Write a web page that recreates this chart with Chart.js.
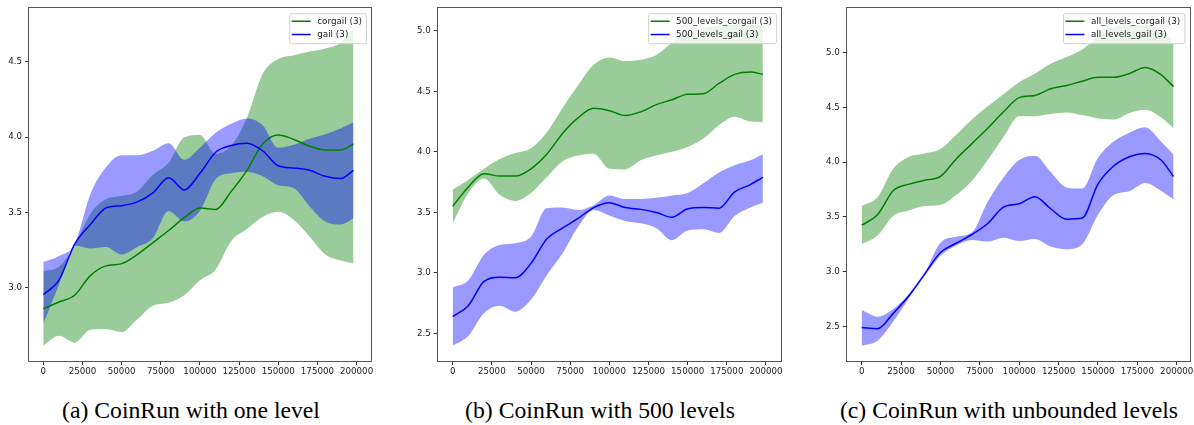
<!DOCTYPE html>
<html lang="en">
<head>
<meta charset="UTF-8">
<title>CoinRun reward curves</title>
<script src="https://cdn.jsdelivr.net/npm/chart.js"></script>
<style>
    html, body { margin: 0; padding: 0; background: #fff; overflow: hidden; }
    body { width: 1194px; height: 425px; position: relative; }
    .panel { position: absolute; top: 0; }
    .caption {
        position: absolute;
        top: 396px;
        font-family: "Liberation Serif", "Times New Roman", serif;
        font-size: 23.7px;
        line-height: 28px;
        white-space: nowrap;
        transform: translateX(-50%);
        color: #000;
    }
</style>
</head>
<body>
<div class="panel" style="left:0px"><canvas id="c1" width="380" height="385"></canvas></div>
<div class="panel" style="left:400px"><canvas id="c2" width="390" height="385"></canvas></div>
<div class="panel" style="left:800px"><canvas id="c3" width="404" height="385"></canvas></div>
<div class="caption" id="cap1" style="left:191px"></div>
<div class="caption" id="cap2" style="left:600px"></div>
<div class="caption" id="cap3" style="left:1009px"></div>

<script>
// training steps (shared by every series)
const steps = [0, 10000, 20000, 30000, 40000, 50000, 60000, 70000, 80000, 90000, 100000,
               110000, 120000, 130000, 140000, 150000, 160000, 170000, 180000, 190000, 198000];
const xTicks = [0, 25000, 50000, 75000, 100000, 125000, 150000, 175000, 200000];

const captions = ['(a) CoinRun with one level', '(b) CoinRun with 500 levels', '(c) CoinRun with unbounded levels'];

// (a) one level
const oneLabels = ['corgail (3)', 'gail (3)'];
const oneYTicks = [3.0, 3.5, 4.0, 4.5];
const oneCorgailMean = [2.86, 2.905, 2.95, 3.08, 3.145, 3.16, 3.22, 3.30, 3.38, 3.465, 3.53, 3.52, 3.64, 3.78, 3.955, 4.015, 3.985, 3.94, 3.915, 3.915, 3.955];
const oneCorgailHigh = [3.11, 3.14, 3.28, 3.49, 3.59, 3.61, 3.64, 3.75, 3.83, 4.0, 4.015, 3.89, 3.945, 4.13, 4.42, 4.52, 4.545, 4.57, 4.59, 4.63, 4.73];
const oneCorgailLow = [2.615, 2.68, 2.635, 2.72, 2.725, 2.705, 2.79, 2.88, 2.90, 2.95, 3.05, 3.12, 3.31, 3.39, 3.47, 3.505, 3.45, 3.34, 3.22, 3.18, 3.16];
const oneGailMean = [2.955, 3.05, 3.29, 3.42, 3.53, 3.545, 3.57, 3.63, 3.73, 3.65, 3.76, 3.90, 3.945, 3.96, 3.91, 3.81, 3.795, 3.78, 3.74, 3.725, 3.78];
const oneGailHigh = [3.17, 3.21, 3.29, 3.62, 3.80, 3.88, 3.88, 3.91, 3.96, 3.85, 3.93, 4.03, 4.09, 4.125, 4.08, 3.93, 3.95, 3.99, 4.02, 4.06, 4.10];
const oneGailLow = [2.76, 3.02, 3.28, 3.26, 3.27, 3.22, 3.27, 3.33, 3.51, 3.44, 3.51, 3.72, 3.76, 3.77, 3.74, 3.68, 3.66, 3.54, 3.44, 3.42, 3.46];

// (b) 500 levels
const fiveLabels = ['500_levels_corgail (3)', '500_levels_gail (3)'];
const fiveYTicks = [2.5, 3.0, 3.5, 4.0, 4.5, 5.0];
const fiveCorgailMean = [3.55, 3.71, 3.82, 3.80, 3.80, 3.86, 3.98, 4.15, 4.28, 4.36, 4.34, 4.30, 4.33, 4.39, 4.43, 4.475, 4.48, 4.565, 4.64, 4.66, 4.64];
const fiveCorgailHigh = [3.69, 3.77, 3.86, 3.94, 3.99, 4.03, 4.16, 4.36, 4.55, 4.72, 4.78, 4.75, 4.76, 4.80, 4.90, 4.98, 5.02, 5.04, 5.05, 5.05, 5.05];
const fiveCorgailLow = [3.41, 3.66, 3.78, 3.645, 3.595, 3.66, 3.79, 3.92, 3.97, 3.985, 3.86, 3.855, 3.93, 3.97, 4.0, 4.04, 4.11, 4.22, 4.29, 4.25, 4.245];
const fiveGailMean = [2.64, 2.73, 2.93, 2.965, 2.96, 3.08, 3.28, 3.37, 3.45, 3.54, 3.58, 3.54, 3.525, 3.50, 3.46, 3.53, 3.54, 3.535, 3.67, 3.73, 3.79];
const fiveGailHigh = [2.88, 2.94, 3.15, 3.23, 3.245, 3.30, 3.535, 3.54, 3.52, 3.56, 3.64, 3.61, 3.61, 3.62, 3.64, 3.66, 3.74, 3.83, 3.89, 3.93, 3.98];
const fiveGailLow = [2.40, 2.48, 2.67, 2.73, 2.68, 2.78, 2.98, 3.16, 3.38, 3.52, 3.475, 3.43, 3.41, 3.37, 3.27, 3.35, 3.36, 3.33, 3.47, 3.54, 3.58];

// (c) unbounded levels
const allLabels = ['all_levels_corgail (3)', 'all_levels_gail (3)'];
const allYTicks = [2.5, 3.0, 3.5, 4.0, 4.5, 5.0];
const allCorgailMean = [3.425, 3.52, 3.74, 3.80, 3.835, 3.87, 4.03, 4.17, 4.31, 4.46, 4.59, 4.61, 4.67, 4.70, 4.74, 4.775, 4.775, 4.81, 4.865, 4.80, 4.69];
const allCorgailHigh = [3.60, 3.68, 3.94, 4.05, 4.08, 4.12, 4.25, 4.39, 4.51, 4.62, 4.73, 4.81, 4.90, 4.96, 5.03, 5.14, 5.23, 5.25, 5.25, 5.21, 5.10];
const allCorgailLow = [3.25, 3.33, 3.51, 3.56, 3.60, 3.61, 3.70, 3.83, 4.02, 4.23, 4.42, 4.42, 4.44, 4.455, 4.43, 4.40, 4.39, 4.45, 4.48, 4.41, 4.31];
const allGailMean = [2.49, 2.48, 2.62, 2.78, 2.98, 3.175, 3.26, 3.34, 3.44, 3.59, 3.62, 3.685, 3.575, 3.48, 3.49, 3.80, 3.965, 4.05, 4.08, 4.02, 3.87];
const allGailHigh = [2.65, 2.59, 2.66, 2.80, 2.99, 3.265, 3.32, 3.36, 3.64, 3.86, 4.02, 4.06, 3.91, 3.77, 3.76, 4.04, 4.19, 4.27, 4.32, 4.19, 4.07];
const allGailLow = [2.325, 2.37, 2.545, 2.76, 2.96, 3.145, 3.24, 3.29, 3.275, 3.31, 3.28, 3.30, 3.23, 3.205, 3.25, 3.52, 3.70, 3.735, 3.81, 3.74, 3.66];

const GREEN = '#008000';
const BLUE = '#0000ff';
const GREEN_BAND = 'rgba(0, 128, 0, 0.4)';
const BLUE_BAND = 'rgba(0, 0, 255, 0.4)';
const TICK_FONT = { family: 'DejaVu Sans', size: 8.7 };

function pts(vals) {
    return vals.map((y, i) => ({ x: steps[i], y: y }));
}

function band(vals, color, fill, order) {
    return {
        data: pts(vals),
        borderWidth: 0,
        pointRadius: 0,
        backgroundColor: color,
        fill: fill,
        order: order,
        cubicInterpolationMode: 'monotone'
    };
}

function meanLine(label, vals, color, order) {
    return {
        label: label,
        inLegend: true,
        data: pts(vals),
        borderColor: color,
        borderWidth: 1.5,
        pointRadius: 0,
        fill: false,
        order: order,
        cubicInterpolationMode: 'monotone'
    };
}

// matplotlib style box around the plot area
const frame = {
    id: 'frame',
    afterDatasetsDraw(chart) {
        const a = chart.chartArea;
        const ctx = chart.ctx;
        ctx.save();
        ctx.strokeStyle = '#555';
        ctx.lineWidth = 1;
        ctx.strokeRect(Math.round(a.left) - 0.5, Math.round(a.top) - 0.5,
                       Math.round(a.right - a.left) + 1, Math.round(a.bottom - a.top) + 1);
        ctx.restore();
    }
};

// legend in the upper right corner, inside the axes
const cornerLegend = {
    id: 'cornerLegend',
    afterDraw(chart) {
        const a = chart.chartArea;
        const ctx = chart.ctx;
        const items = chart.data.datasets.filter(d => d.inLegend);
        ctx.save();
        ctx.font = '8.8px "DejaVu Sans"';
        const textW = Math.max(...items.map(d => ctx.measureText(d.label).width));
        const w = 28 + textW + 4;
        const h = 30;
        const x = a.right - 5 - w;
        const y = a.top + 5;
        ctx.beginPath();
        ctx.roundRect(x + 0.5, y + 0.5, w, h, 2);
        ctx.fillStyle = 'rgba(255, 255, 255, 0.8)';
        ctx.fill();
        ctx.strokeStyle = '#d0d0d0';
        ctx.lineWidth = 1;
        ctx.stroke();
        ctx.textBaseline = 'middle';
        items.forEach((d, i) => {
            const cy = y + 8 + i * 13.3;
            ctx.strokeStyle = d.borderColor;
            ctx.lineWidth = 1.5;
            ctx.beginPath();
            ctx.moveTo(x + 2.5, cy);
            ctx.lineTo(x + 21.5, cy);
            ctx.stroke();
            ctx.fillStyle = '#222';
            ctx.fillText(d.label, x + 28, cy + 0.5);
        });
        ctx.restore();
    }
};

function makePanel(id, p) {
    const ctx = document.getElementById(id).getContext('2d');
    return new Chart(ctx, {
        type: 'line',
        data: {
            datasets: [
                band(p.corgailLow, GREEN_BAND, false, 6),
                band(p.corgailHigh, GREEN_BAND, '-1', 6),
                band(p.gailLow, BLUE_BAND, false, 4),
                band(p.gailHigh, BLUE_BAND, '-1', 4),
                meanLine(p.labels[0], p.corgailMean, GREEN, 2),
                meanLine(p.labels[1], p.gailMean, BLUE, 1)
            ]
        },
        options: {
            responsive: false,
            animation: false,
            layout: { padding: { top: 6, right: p.padRight, left: 0, bottom: 0 } },
            plugins: { legend: { display: false }, tooltip: { enabled: false } },
            scales: {
                x: {
                    type: 'linear',
                    min: p.xMin,
                    max: p.xMax,
                    afterBuildTicks: s => { s.ticks = xTicks.map(v => ({ value: v })); },
                    afterFit: s => { s.height = 24; },
                    border: { display: false },
                    grid: { drawOnChartArea: false, drawTicks: true, tickLength: 4, color: '#333' },
                    ticks: {
                        font: TICK_FONT, color: '#222', padding: 2, maxRotation: 0, autoSkip: false,
                        callback: v => String(v)
                    }
                },
                y: {
                    min: p.yMin,
                    max: p.yMax,
                    afterBuildTicks: s => { s.ticks = p.yTicks.map(v => ({ value: v })); },
                    afterFit: s => { s.width = p.yWidth; },
                    border: { display: false },
                    grid: { drawOnChartArea: false, drawTicks: true, tickLength: 4, color: '#333' },
                    ticks: {
                        font: TICK_FONT, color: '#222', padding: 3, autoSkip: false,
                        callback: v => Number(v).toFixed(1)
                    }
                }
            }
        },
        plugins: [frame, cornerLegend]
    });
}

makePanel('c1', {
    labels: oneLabels, yTicks: oneYTicks,
    corgailMean: oneCorgailMean, corgailHigh: oneCorgailHigh, corgailLow: oneCorgailLow,
    gailMean: oneGailMean, gailHigh: oneGailHigh, gailLow: oneGailLow,
    xMin: -9130, xMax: 209200, yMin: 2.513, yMax: 4.857, yWidth: 29, padRight: 9
});
makePanel('c2', {
    labels: fiveLabels, yTicks: fiveYTicks,
    corgailMean: fiveCorgailMean, corgailHigh: fiveCorgailHigh, corgailLow: fiveCorgailLow,
    gailMean: fiveGailMean, gailHigh: fiveGailHigh, gailLow: fiveGailLow,
    xMin: -9575, xMax: 209580, yMin: 2.273, yMax: 5.186, yWidth: 37.7, padRight: 9
});
makePanel('c3', {
    labels: allLabels, yTicks: allYTicks,
    corgailMean: allCorgailMean, corgailHigh: allCorgailHigh, corgailLow: allCorgailLow,
    gailMean: allGailMean, gailHigh: allGailHigh, gailLow: allGailLow,
    xMin: -9524, xMax: 208000, yMin: 2.185, yMax: 5.406, yWidth: 46.7, padRight: 14.7
});

captions.forEach((t, i) => { document.getElementById('cap' + (i + 1)).textContent = t; });
</script>
</body>
</html>
